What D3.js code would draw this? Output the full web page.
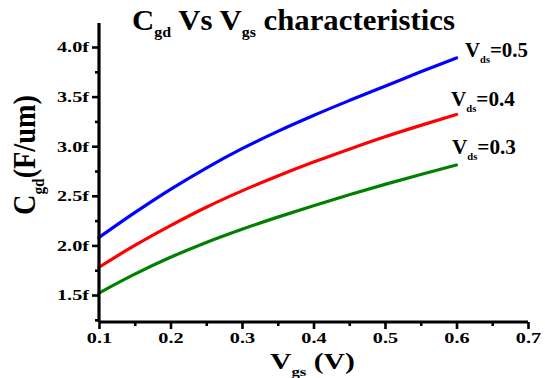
<!DOCTYPE html>
<html>
<head>
<meta charset="utf-8">
<script src="https://cdn.jsdelivr.net/npm/d3@7"></script>
<style>
  html, body { margin: 0; padding: 0; background: #fff; }
  svg { display: block; }
  text { font-family: "Liberation Serif", "Times New Roman", serif; font-weight: bold; fill: #000; }
</style>
</head>
<body>
<svg id="chart" width="545" height="378"></svg>
<script>
// Gate-drain capacitance vs gate-source voltage for three drain biases
const vgs = [0.10, 0.15, 0.20, 0.25, 0.30, 0.35, 0.40, 0.45, 0.50, 0.55, 0.60];
const cgdVds05 = [2.08, 2.33, 2.565, 2.78, 2.975, 3.15, 3.31, 3.46, 3.605, 3.75, 3.89];
const cgdVds04 = [1.78, 2.00, 2.20, 2.385, 2.55, 2.70, 2.84, 2.97, 3.095, 3.21, 3.32];
const cgdVds03 = [1.52, 1.71, 1.88, 2.03, 2.163, 2.285, 2.40, 2.51, 2.615, 2.715, 2.81];
const seriesNames = ["0.5", "0.4", "0.3"];
const seriesColors = ["#0000ff", "#ff0000", "#008000"];
const xTicks = [0.1, 0.2, 0.3, 0.4, 0.5, 0.6, 0.7];
const xMinorTicks = [0.15, 0.25, 0.35, 0.45, 0.55, 0.65];
const yTicks = [1.5, 2.0, 2.5, 3.0, 3.5, 4.0];
const yMinorTicks = [1.25, 1.75, 2.25, 2.75, 3.25, 3.75];

const svg = d3.select("#chart");
const x = d3.scaleLinear().domain([0.1, 0.7]).range([99, 528]);
const y = d3.scaleLinear().domain([1.228, 4.242]).range([322, 23]);

// horizontal stretch used for the tick lettering
const SX = 1.35;
function stretch(sel, ax) {
  sel.attr("transform", `translate(${ax},0) scale(${SX},1) translate(${-ax},0)`);
}
// scale a text element horizontally so its box spans [x0, x1]
function fitWidth(sel, x0, x1) {
  const b = sel.node().getBBox();
  const s = (x1 - x0) / b.width;
  sel.attr("transform", `translate(${x0 - b.x * s},0) scale(${s},1)`);
}

// curves
const line = d3.line().x((d, i) => x(vgs[i])).y(d => y(d)).curve(d3.curveMonotoneX);
const allSeries = [cgdVds05, cgdVds04, cgdVds03];
svg.append("g").selectAll("path").data(allSeries).join("path")
  .attr("d", d => line(d))
  .attr("fill", "none")
  .attr("stroke", (d, i) => seriesColors[i])
  .attr("stroke-width", 3.2)
  .attr("stroke-linecap", "round");

// x axis
const xAxis = svg.append("g").attr("transform", "translate(0,322)");
xAxis.call(d3.axisBottom(x).tickValues(xTicks).tickSize(7).tickFormat(d3.format(".1f")));
xAxis.append("g").call(d3.axisBottom(x).tickValues(xMinorTicks).tickSize(4).tickFormat(""))
  .select(".domain").remove();
xAxis.selectAll(".domain").attr("stroke", "#000").attr("stroke-width", 3.2)
  .attr("d", `M${x(0.1)},0H${x(0.7)}`);
xAxis.selectAll(".tick line").attr("stroke", "#000").attr("stroke-width", 2.6);
xAxis.selectAll(".tick text")
  .attr("y", 10).attr("dy", "0.71em")
  .style("font-size", "15px")
  .style("font-family", "'Liberation Serif', serif")
  .style("font-weight", "bold")
  .each(function () { stretch(d3.select(this), 0); });

// y axis
const yAxis = svg.append("g").attr("transform", "translate(99,0)");
yAxis.call(d3.axisLeft(y).tickValues(yTicks).tickSize(7).tickFormat(d => d3.format(".1f")(d) + "f"));
yAxis.append("g").call(d3.axisLeft(y).tickValues(yMinorTicks).tickSize(4).tickFormat(""))
  .select(".domain").remove();
yAxis.selectAll(".domain").attr("stroke", "#000").attr("stroke-width", 3.2)
  .attr("d", `M0,${y(1.228)}V${y(4.242)}`);
yAxis.selectAll(".tick line").attr("stroke", "#000").attr("stroke-width", 2.6);
yAxis.selectAll(".tick text")
  .attr("x", -10)
  .style("font-size", "15px")
  .style("font-family", "'Liberation Serif', serif")
  .style("font-weight", "bold")
  .each(function () { stretch(d3.select(this), -10); });

// title
const title = svg.append("text").attr("x", 132).attr("y", 30).style("font-size", "29px");
title.append("tspan").text("C");
title.append("tspan").attr("dy", 7).style("font-size", "15px").text("gd");
title.append("tspan").attr("dy", -7).text(" Vs V");
title.append("tspan").attr("dy", 7).style("font-size", "15px").text("gs");
title.append("tspan").attr("dy", -7).text(" characteristics");
fitWidth(title, 132, 455);

// x axis title
const xTitle = svg.append("text").attr("x", 270).attr("y", 369).style("font-size", "23px");
xTitle.append("tspan").text("V");
xTitle.append("tspan").attr("dy", 7).style("font-size", "13px").text("gs");
xTitle.append("tspan").attr("dy", -7).text(" (V)");
fitWidth(xTitle, 270, 355);

// y axis title (rotated)
const yTitleG = svg.append("g").attr("transform", "translate(35,215) rotate(-90)");
const yTitle = yTitleG.append("text").attr("x", 0).attr("y", 0).style("font-size", "24px");
yTitle.append("tspan").text("C");
yTitle.append("tspan").attr("dy", 7).style("font-size", "13px").text("gd");
yTitle.append("tspan").attr("dy", -7).text("(F/um)");
(function () {
  const b = yTitle.node().getBBox();
  const s = 120 / b.width;
  yTitle.attr("transform", `scale(${s},${SX})`);
})();

// series labels
const labelPos = [[465, 528, 57], [451, 515, 106], [452, 516, 154]];
seriesNames.forEach((name, i) => {
  const t = svg.append("text").attr("x", labelPos[i][0]).attr("y", labelPos[i][2]).style("font-size", "20px");
  t.append("tspan").text("V");
  t.append("tspan").attr("dy", 6).style("font-size", "10px").text("ds");
  t.append("tspan").attr("dy", -6).text("=" + name);
  fitWidth(t, labelPos[i][0], labelPos[i][1]);
});
</script>
</body>
</html>
